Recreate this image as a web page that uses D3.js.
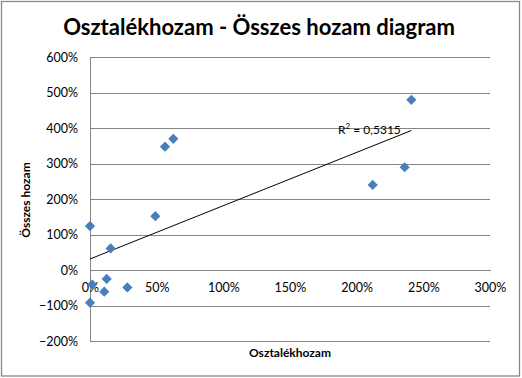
<!DOCTYPE html>
<html><head><meta charset="utf-8">
<script src="https://cdn.jsdelivr.net/npm/d3@7/dist/d3.min.js"></script>
<style>
html,body{margin:0;padding:0;background:#fff;}
svg{display:block;font-family:Lato, "Open Sans", sans-serif;}
</style></head>
<body>
<script>
// Data (fractions: 1 = 100%)
const dividendYield = [0, 0.155, 0.49, 0.017, 0.125, 0.107, 0.28, 0, 0.5625, 0.625, 2.41, 2.36, 2.12];
const totalReturn   = [1.24, 0.61, 1.52, -0.41, -0.25, -0.61, -0.49, -0.92, 3.48, 3.70, 4.80, 2.90, 2.40];
const xTicks = [0, 0.5, 1, 1.5, 2, 2.5, 3];
const yTicks = [-2, -1, 0, 1, 2, 3, 4, 5, 6];
const titleText = "Osztalékhozam - Összes hozam diagram";
const xTitle = "Osztalékhozam";
const yTitle = "Összes hozam";
const r2Value = "0,5315";

const W = 522, H = 378;
const plot = {left: 90, right: 490, top: 57.3, bottom: 341};

const svg = d3.select("body").append("svg").attr("width", W).attr("height", H);
svg.append("rect").attr("x", 0).attr("y", 0).attr("width", W).attr("height", H).attr("fill", "#fff");
svg.append("rect").attr("x", 1.5).attr("y", 1.5).attr("width", 518).attr("height", 374.5)
  .attr("fill", "none").attr("stroke", "#888").attr("stroke-width", 1.3);

const x = d3.scaleLinear().domain([0, 3]).range([plot.left, plot.right]);
const y = d3.scaleLinear().domain([-2, 6]).range([plot.bottom, plot.top]);
const pct = d => d3.format(".0f")(d * 100) + "%";

// Gridlines (horizontal)
const yAxis = d3.axisLeft(y).tickValues(yTicks).tickFormat(pct)
  .tickSize(-(plot.right - plot.left)).tickPadding(12);
const gy = svg.append("g").attr("transform", `translate(${plot.left},0)`).call(yAxis);
gy.select(".domain").remove();
gy.selectAll(".tick line").attr("stroke", "#868686").attr("shape-rendering", "crispEdges");
gy.selectAll(".tick text").attr("font-size", 12.5).attr("fill", "#000")
  .attr("font-family", "Lato, sans-serif");

// Vertical axis line
svg.append("line").attr("x1", plot.left).attr("x2", plot.left).attr("y1", plot.top).attr("y2", plot.bottom)
  .attr("stroke", "#868686").attr("shape-rendering", "crispEdges");

// X axis crossing at 0%
const xAxis = d3.axisBottom(x).tickValues(xTicks).tickFormat(pct).tickSize(0).tickPadding(13);
const gx = svg.append("g").attr("transform", `translate(0,${y(0)})`).call(xAxis);
gx.select(".domain").attr("stroke", "#868686").attr("shape-rendering", "crispEdges");
gx.selectAll(".tick text").attr("font-size", 12.5).attr("fill", "#000")
  .attr("font-family", "Lato, sans-serif");

// Trendline: least squares fit over data
const n = dividendYield.length;
const mx = d3.mean(dividendYield), my = d3.mean(totalReturn);
let sxy = 0, sxx = 0;
for (let i = 0; i < n; i++) { sxy += (dividendYield[i] - mx) * (totalReturn[i] - my); sxx += (dividendYield[i] - mx) ** 2; }
const slope = sxy / sxx, intercept = my - slope * mx;
const [xmin, xmax] = d3.extent(dividendYield);
svg.append("line")
  .attr("x1", x(xmin)).attr("y1", y(intercept + slope * xmin))
  .attr("x2", x(xmax)).attr("y2", y(intercept + slope * xmax))
  .attr("stroke", "#000").attr("stroke-width", 1);

// R² label
const r2 = svg.append("text").attr("x", 338).attr("y", 134).attr("font-size", 12).attr("fill", "#000");
r2.append("tspan").text("R");
r2.append("tspan").attr("dy", -5).attr("font-size", 8).text("2");
r2.append("tspan").attr("dy", 5).text(" = " + r2Value);

// Points
const diamond = d3.symbol().type(d3.symbolSquare).size(52)();
svg.append("g").selectAll("path").data(d3.range(n)).join("path")
  .attr("d", diamond)
  .attr("transform", i => `translate(${x(dividendYield[i])},${y(totalReturn[i])}) rotate(45)`)
  .attr("fill", "#4A7EBB");

// Title
const t = svg.append("text").attr("x", 259).attr("y", 35).attr("text-anchor", "middle")
  .attr("font-weight", "bold").attr("font-size", 24).attr("fill", "#000").text(titleText);
const tw = t.node().getComputedTextLength();
t.attr("font-size", 24 * 392 / tw);

// Axis titles
svg.append("text").attr("x", 290).attr("y", 357).attr("text-anchor", "middle")
  .attr("font-weight", "bold").attr("font-size", 12).attr("fill", "#000").text(xTitle);
svg.append("text").attr("transform", "translate(30,200) rotate(-90)").attr("text-anchor", "middle")
  .attr("font-weight", "bold").attr("font-size", 12).attr("fill", "#000").text(yTitle);
</script>
</body></html>
